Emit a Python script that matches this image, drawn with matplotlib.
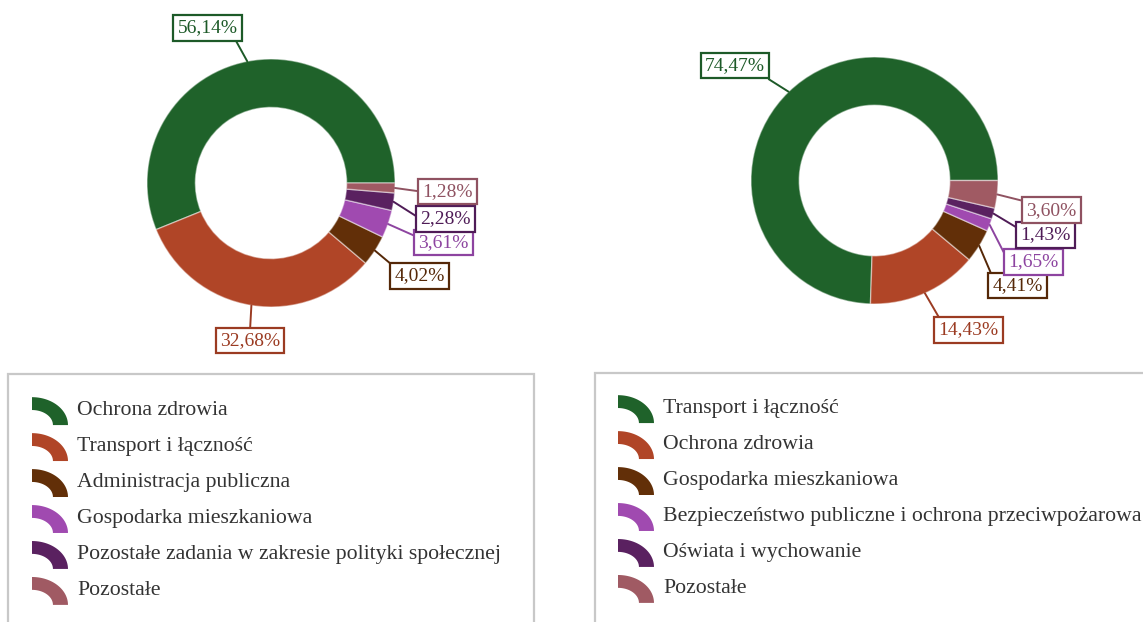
import matplotlib
matplotlib.use("Agg")
import matplotlib.pyplot as plt
from matplotlib.patches import Patch, Polygon, Rectangle
from matplotlib.legend_handler import HandlerBase
import numpy as np

# left chart
labels_left = ['Ochrona zdrowia', 'Transport i łączność', 'Administracja publiczna',
               'Gospodarka mieszkaniowa', 'Pozostałe zadania w zakresie polityki społecznej',
               'Pozostałe']
values_left = [56.14, 32.68, 4.02, 3.61, 2.28, 1.28]

# right chart
labels_right = ['Transport i łączność', 'Ochrona zdrowia', 'Gospodarka mieszkaniowa',
                'Bezpieczeństwo publiczne i ochrona przeciwpożarowa',
                'Oświata i wychowanie', 'Pozostałe']
values_right = [74.47, 14.43, 4.41, 1.65, 1.43, 3.60]

slice_colors = ['#1f622a', '#b04527', '#622f08', '#a04ab0', '#5a2160', '#a05a63']
label_colors = ['#1d5a28', '#9b3b22', '#552808', '#8d44a0', '#4f1c57', '#8f5261']

# label box offsets, in units of the pie radius, and where the connector meets the box
offsets_left = [(-0.51, 1.25), (-0.17, -1.27), (1.20, -0.75),
                (1.39, -0.48), (1.41, -0.29), (1.42, -0.07)]
relpos_left = [(0.93, 0), (0.5, 1), (0.05, 0.9), (0, 0.8), (0, 0.5), (0, 0.5)]
offsets_right = [(-1.13, 0.93), (0.76, -1.21), (1.16, -0.85),
                 (1.29, -0.66), (1.385, -0.44), (1.43, -0.24)]
relpos_right = [(0.93, 0), (0.05, 1), (0, 1), (0, 0.5), (0, 0.8), (0, 1)]

W, H = 1143, 622
SERIF = 'Liberation Serif'


class ArcHandler(HandlerBase):
    # quarter ring marker, like a piece of the donut
    def create_artists(self, legend, orig_handle, xdescent, ydescent,
                       width, height, fontsize, trans):
        fs = fontsize
        x0 = -xdescent
        y0 = -ydescent - 0.45 * fs
        t = np.linspace(0, np.pi / 2, 40)
        outer = np.column_stack([x0 + 1.65 * fs * np.cos(t), y0 + 1.28 * fs * np.sin(t)])
        inner = np.column_stack([x0 + 0.96 * fs * np.cos(t[::-1]), y0 + 0.69 * fs * np.sin(t[::-1])])
        poly = Polygon(np.vstack([outer, inner]), closed=True,
                       facecolor=orig_handle.get_facecolor(), edgecolor='none',
                       transform=trans)
        return [poly]


def fmt(v):
    return f"{v:.2f}".replace('.', ',') + '%'


def donut(ax, values, cx, cy, r, offsets, relpos):
    wedges, _ = ax.pie(values, colors=slice_colors, startangle=0, counterclock=True,
                       center=(cx, cy), radius=r,
                       wedgeprops=dict(width=0.39 * r, edgecolor=(1, 1, 1, 0.45), linewidth=1))
    for w, v, (dx, dy), rp, lc in zip(wedges, values, offsets, relpos, label_colors):
        ang = np.deg2rad((w.theta1 + w.theta2) / 2)
        px, py = cx + r * np.cos(ang), cy + r * np.sin(ang)
        ax.annotate(fmt(v), xy=(px, py), xytext=(cx + dx * r, cy + dy * r),
                    ha='center', va='center', color=lc, fontsize=14, family=SERIF,
                    bbox=dict(boxstyle='square,pad=0.22', fc='white', ec=lc, lw=1.6),
                    arrowprops=dict(arrowstyle='-', color=lc, lw=1.4, relpos=rp,
                                    shrinkA=0, shrinkB=0))


fig = plt.figure(figsize=(W / 100, H / 100), dpi=100)
ax = fig.add_axes([0, 0, 1, 1])

donut(ax, values_left, 271, H - 183, 124, offsets_left, relpos_left)
donut(ax, values_right, 874.5, H - 180.5, 123.5, offsets_right, relpos_right)

ax.set_xlim(0, W)
ax.set_ylim(0, H)
ax.axis('off')

# legend frames
ax.add_patch(Rectangle((8, -20), 526, H - 374 + 20, fill=False, ec='#c8c8c8', lw=1.6))
ax.add_patch(Rectangle((595, -20), 600, H - 373 + 20, fill=False, ec='#c8c8c8', lw=1.6))

legend_kw = dict(loc='upper left', bbox_transform=fig.transFigure, frameon=False,
                 handlelength=1.65, handletextpad=0.42, labelspacing=0.72,
                 borderpad=0, borderaxespad=0, labelcolor='#333333',
                 prop={'family': SERIF, 'size': 15.7},
                 handler_map={Patch: ArcHandler()})

hl = [Patch(facecolor=c) for c in slice_colors]
leg1 = ax.legend(hl, labels_left, bbox_to_anchor=(32 / W, 1 - 400 / H), **legend_kw)
ax.add_artist(leg1)
ax.legend(hl, labels_right, bbox_to_anchor=(618 / W, 1 - 398 / H), **legend_kw)

fig.savefig('out.png', dpi=100)
